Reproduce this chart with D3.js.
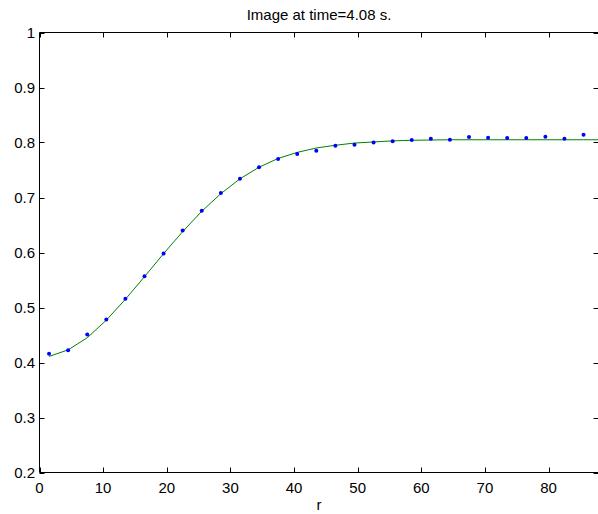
<!DOCTYPE html>
<html>
<head>
<meta charset="utf-8">
<script src="https://cdn.jsdelivr.net/npm/d3@7"></script>
<style>
  body { margin: 0; background: #fff; }
  svg { display: block; font-family: "Liberation Sans", Arial, sans-serif; }
</style>
</head>
<body>
<div id="chart"></div>
<script>
// measured samples (blue dots)
const rValues = [1.5, 4.5, 7.5, 10.5, 13.5, 16.5, 19.5, 22.5, 25.5, 28.5, 31.5, 34.5, 37.5, 40.5, 43.5,
                 46.5, 49.5, 52.5, 55.5, 58.5, 61.5, 64.5, 67.5, 70.5, 73.5, 76.5, 79.5, 82.5, 85.5];
const intensity = [0.416, 0.4225, 0.451, 0.478, 0.516, 0.557, 0.598, 0.640, 0.676, 0.708, 0.734, 0.755, 0.770, 0.779, 0.785,
                   0.794, 0.796, 0.800, 0.8025, 0.8044, 0.8067, 0.805, 0.8098, 0.8085, 0.808, 0.808, 0.8104, 0.8067, 0.814];

// fitted curve (green line)
const fitR = [1.5, 4.5, 7.5, 10.5, 13.5, 16.5, 19.5, 22.5, 25.5, 28.5, 31.5, 34.5, 37.5, 40.5, 43.5,
              46.5, 49.5, 52.5, 55.5, 58.5, 61.5, 64.5, 67.5, 70.5, 73.5, 76.5, 79.5, 82.5, 85.5, 88.5];
const fitValues = [0.411, 0.423, 0.445, 0.477, 0.515, 0.556, 0.598, 0.638, 0.675, 0.707, 0.734, 0.755, 0.771, 0.782, 0.790,
                   0.795, 0.799, 0.801, 0.803, 0.804, 0.8045, 0.805, 0.805, 0.805, 0.805, 0.805, 0.805, 0.805, 0.805, 0.805];

const xTicks = [0, 10, 20, 30, 40, 50, 60, 70, 80];
const yTicks = [0.2, 0.3, 0.4, 0.5, 0.6, 0.7, 0.8, 0.9, 1];

const W = 598, H = 514;
const box = {left: 39.5, top: 32.5, right: 598.5, bottom: 472.5};

const svg = d3.select("#chart").append("svg")
    .attr("width", W)
    .attr("height", H);

svg.append("rect").attr("width", W).attr("height", H).attr("fill", "#fff");

const x = d3.scaleLinear().domain([0, 87.85]).range([box.left, box.right]);
const y = d3.scaleLinear().domain([0.2, 1]).range([box.bottom, box.top]);

svg.append("defs").append("clipPath").attr("id", "plotclip")
    .append("rect")
    .attr("x", box.left).attr("y", box.top)
    .attr("width", box.right - box.left).attr("height", box.bottom - box.top);

// box lines
svg.append("path")
    .attr("d", `M${box.right},${box.top}H${box.left}V${box.bottom}H${box.right}V${box.top}`)
    .attr("fill", "none")
    .attr("stroke", "#000")
    .attr("stroke-width", 1);

// ticks pointing inward, on all four sides
const tickLen = 5;
const ticks = svg.append("g").attr("stroke", "#000").attr("stroke-width", 1);
xTicks.forEach(t => {
    const px = Math.round(x(t)) + 0.5;
    ticks.append("line").attr("x1", px).attr("x2", px).attr("y1", box.bottom).attr("y2", box.bottom - tickLen);
    ticks.append("line").attr("x1", px).attr("x2", px).attr("y1", box.top).attr("y2", box.top + tickLen);
});
yTicks.forEach(t => {
    const py = Math.round(y(t)) + 0.5;
    ticks.append("line").attr("x1", box.left).attr("x2", box.left + tickLen).attr("y1", py).attr("y2", py);
    ticks.append("line").attr("x1", box.right).attr("x2", box.right - tickLen).attr("y1", py).attr("y2", py);
});

// tick labels
svg.append("g").selectAll("text")
    .data(xTicks)
    .enter().append("text")
    .attr("x", d => x(d))
    .attr("y", 493)
    .attr("text-anchor", "middle")
    .style("font-size", "15px")
    .text(d => d);

svg.append("g").selectAll("text")
    .data(yTicks)
    .enter().append("text")
    .attr("x", 35)
    .attr("y", d => y(d) + 5.4)
    .attr("text-anchor", "end")
    .style("font-size", "15px")
    .text(d => d3.format("~g")(d));

// fit line
const line = d3.line()
    .x((d, i) => x(fitR[i]))
    .y(d => y(d));

const plot = svg.append("g").attr("clip-path", "url(#plotclip)");

plot.append("path")
    .datum(fitValues)
    .attr("d", line)
    .attr("fill", "none")
    .attr("stroke", "#008000")
    .attr("stroke-width", 1);

// data points
plot.selectAll("circle")
    .data(intensity)
    .enter().append("circle")
    .attr("cx", (d, i) => x(rValues[i]))
    .attr("cy", d => y(d))
    .attr("r", 2)
    .attr("fill", "#0000ff");

// title and axis label
svg.append("text")
    .attr("x", (box.left + box.right) / 2)
    .attr("y", 20)
    .attr("text-anchor", "middle")
    .style("font-size", "15px")
    .text("Image at time=4.08 s.");

svg.append("text")
    .attr("x", (box.left + box.right) / 2)
    .attr("y", 510)
    .attr("text-anchor", "middle")
    .style("font-size", "15px")
    .text("r");
</script>
</body>
</html>
